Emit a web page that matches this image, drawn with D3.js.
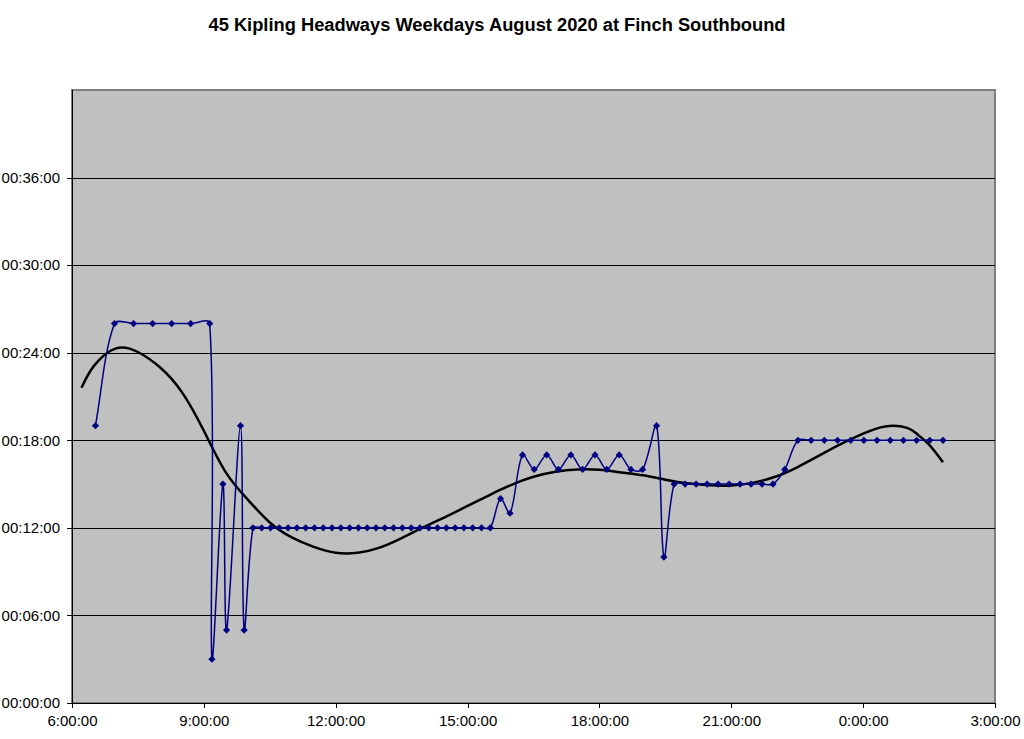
<!DOCTYPE html>
<html lang="en">
<head>
<meta charset="utf-8">
<title>45 Kipling Headways</title>
<style>
  body { margin: 0; background: #fff; }
  svg { display: block; font-family: "Liberation Sans", Arial, sans-serif; }
  .title { font-weight: bold; font-size: 18.3px; fill: #000; text-anchor: middle; }
  .axis text { font-size: 15px; fill: #000; }
  .axis path, .axis line { stroke: #000; shape-rendering: crispEdges; }
  .grid line { stroke: #000; shape-rendering: crispEdges; }
</style>
</head>
<body>
<svg id="chart" width="1024" height="739"></svg>
<script src="https://d3js.org/d3.v7.min.js"></script>
<script>
// departure times and headway (minutes since previous bus)
const busTimes = ["6:32", "6:58", "7:24", "7:50", "8:16", "8:42", "9:08", "9:11", "9:26", "9:31", "9:50", "9:55",
  "10:07", "10:19", "10:31", "10:43", "10:55", "11:07", "11:19", "11:31", "11:43", "11:55", "12:07", "12:19",
  "12:31", "12:43", "12:55", "13:07", "13:19", "13:31", "13:43", "13:55", "14:07", "14:19", "14:31", "14:43",
  "14:55", "15:07", "15:19", "15:31", "15:45", "15:58", "16:15", "16:31", "16:48", "17:04", "17:21", "17:37",
  "17:54", "18:10", "18:27", "18:43", "18:59", "19:18", "19:28", "19:42", "19:57", "20:12", "20:27", "20:42",
  "20:57", "21:12", "21:27", "21:42", "21:57", "22:13", "22:31", "22:49", "23:07", "23:25", "23:43", "0:01",
  "0:19", "0:37", "0:55", "1:13", "1:31", "1:49"];
const headways = [19, 26, 26, 26, 26, 26, 26, 3, 15, 5, 19, 5,
  12, 12, 12, 12, 12, 12, 12, 12, 12, 12, 12, 12,
  12, 12, 12, 12, 12, 12, 12, 12, 12, 12, 12, 12,
  12, 12, 12, 12, 14, 13, 17, 16, 17, 16, 17, 16,
  17, 16, 17, 16, 16, 19, 10, 15, 15, 15, 15, 15,
  15, 15, 15, 15, 15, 16, 18, 18, 18, 18, 18, 18,
  18, 18, 18, 18, 18, 18];

// trend line
const trendTimes = ["6:13", "6:30", "7:00", "7:30", "8:00", "8:30", "9:00", "9:30", "10:00", "10:30", "11:00",
  "11:30", "12:00", "12:30", "13:00", "13:30", "14:00", "14:30", "15:00", "15:30", "16:00", "16:30", "17:00",
  "17:30", "18:00", "18:30", "19:00", "19:30", "20:00", "20:30", "21:00", "21:30", "22:00", "22:30", "23:00",
  "23:30", "0:00", "0:30", "1:00", "1:15", "1:30", "1:49"];
const trendValues = [21.6, 23.1, 24.3, 24.05, 23.0, 21.3, 18.65, 15.8, 13.93, 12.37, 11.35,
  10.7, 10.3, 10.3, 10.65, 11.3, 12.05, 12.75, 13.5, 14.25, 14.95, 15.5, 15.85,
  16.0, 15.98, 15.8, 15.6, 15.3, 15.05, 14.92, 14.9, 15.1, 15.5, 16.15, 16.95,
  17.75, 18.45, 18.95, 18.85, 18.37, 17.7, 16.5];

const xTicks = [360, 540, 720, 900, 1080, 1260, 1440, 1620];
const yTicks = [0, 6, 12, 18, 24, 30, 36];

function toMinutes(s) {
  const [h, m] = s.split(":").map(Number);
  return (h < 6 ? h + 24 : h) * 60 + m;
}

// spreadsheet-style smoothed line: tangent parallel to neighbours' chord,
// control distance weighted by the adjacent segment lengths
function smoothCurve(context) {
  let pts = [];
  const dist = (a, b) => Math.hypot(b[0] - a[0], b[1] - a[1]);
  return {
    areaStart() {}, areaEnd() {},
    lineStart() { pts = []; },
    point(px, py) { pts.push([+px, +py]); },
    lineEnd() {
      const n = pts.length;
      if (!n) return;
      context.moveTo(pts[0][0], pts[0][1]);
      for (let i = 0; i < n - 1; i++) {
        const p0 = pts[Math.max(i - 1, 0)], p1 = pts[i], p2 = pts[i + 1], p3 = pts[Math.min(i + 2, n - 1)];
        const d01 = dist(p0, p1), d12 = dist(p1, p2), d23 = dist(p2, p3);
        const f1 = d01 + d12 > 0 ? d12 / (3 * (d01 + d12)) : 0;
        const f2 = d12 + d23 > 0 ? d12 / (3 * (d12 + d23)) : 0;
        context.bezierCurveTo(
          p1[0] + (p2[0] - p0[0]) * f1, p1[1] + (p2[1] - p0[1]) * f1,
          p2[0] - (p3[0] - p1[0]) * f2, p2[1] - (p3[1] - p1[1]) * f2,
          p2[0], p2[1]);
      }
    }
  };
}

const svg = d3.select("#chart");
const plotL = 72, plotR = 995, plotT = 90, plotB = 703;

const x = d3.scaleLinear().domain([360, 1620]).range([plotL, plotR]);
const y = d3.scaleLinear().domain([0, 42]).range([plotB, plotT]);

svg.append("text")
  .attr("class", "title")
  .attr("x", 497)
  .attr("y", 31)
  .text("45 Kipling Headways Weekdays August 2020 at Finch Southbound");

// plot area
svg.append("rect")
  .attr("x", plotL)
  .attr("y", plotT)
  .attr("width", plotR - plotL)
  .attr("height", plotB - plotT)
  .attr("fill", "#c0c0c0")
  .attr("stroke", "#808080")
  .attr("stroke-width", 2);

svg.append("g")
  .attr("class", "grid")
  .selectAll("line")
  .data(yTicks.filter(d => d > 0))
  .enter()
  .append("line")
  .attr("x1", plotL)
  .attr("x2", plotR)
  .attr("y1", d => Math.round(y(d)) + 0.5)
  .attr("y2", d => Math.round(y(d)) + 0.5);

const pad = n => String(n).padStart(2, "0");

svg.append("g")
  .attr("class", "axis")
  .attr("transform", "translate(" + plotL + ",0)")
  .call(d3.axisLeft(y).tickValues(yTicks).tickSize(5).tickPadding(7)
    .tickFormat(d => "00:" + pad(d) + ":00"))
  .call(g => g.select(".domain").attr("d", "M0," + plotT + "V" + plotB));

svg.append("g")
  .attr("class", "axis")
  .attr("transform", "translate(0," + plotB + ")")
  .call(d3.axisBottom(x).tickValues(xTicks).tickSize(5).tickPadding(7)
    .tickFormat(d => (Math.floor(d / 60) % 24) + ":" + pad(d % 60) + ":00"))
  .call(g => g.select(".domain").attr("d", "M" + plotL + ",0H" + plotR));

// trend line
const trend = trendTimes.map((t, i) => [toMinutes(t), trendValues[i]]);
svg.append("path")
  .datum(trend)
  .attr("fill", "none")
  .attr("stroke", "#000")
  .attr("stroke-width", 2.5)
  .attr("d", d3.line().x(d => x(d[0])).y(d => y(d[1])).curve(d3.curveNatural));

// headway series
const series = busTimes.map((t, i) => [toMinutes(t), headways[i]]);
svg.append("path")
  .datum(series)
  .attr("fill", "none")
  .attr("stroke", "#000080")
  .attr("stroke-width", 1.5)
  .attr("d", d3.line().x(d => x(d[0])).y(d => y(d[1])).curve(smoothCurve));

svg.append("g")
  .selectAll("path")
  .data(series)
  .enter()
  .append("path")
  .attr("d", d3.symbol(d3.symbolSquare).size(26))
  .attr("fill", "#000080")
  .attr("transform", d => "translate(" + x(d[0]) + "," + y(d[1]) + ") rotate(45)");
</script>
</body>
</html>
